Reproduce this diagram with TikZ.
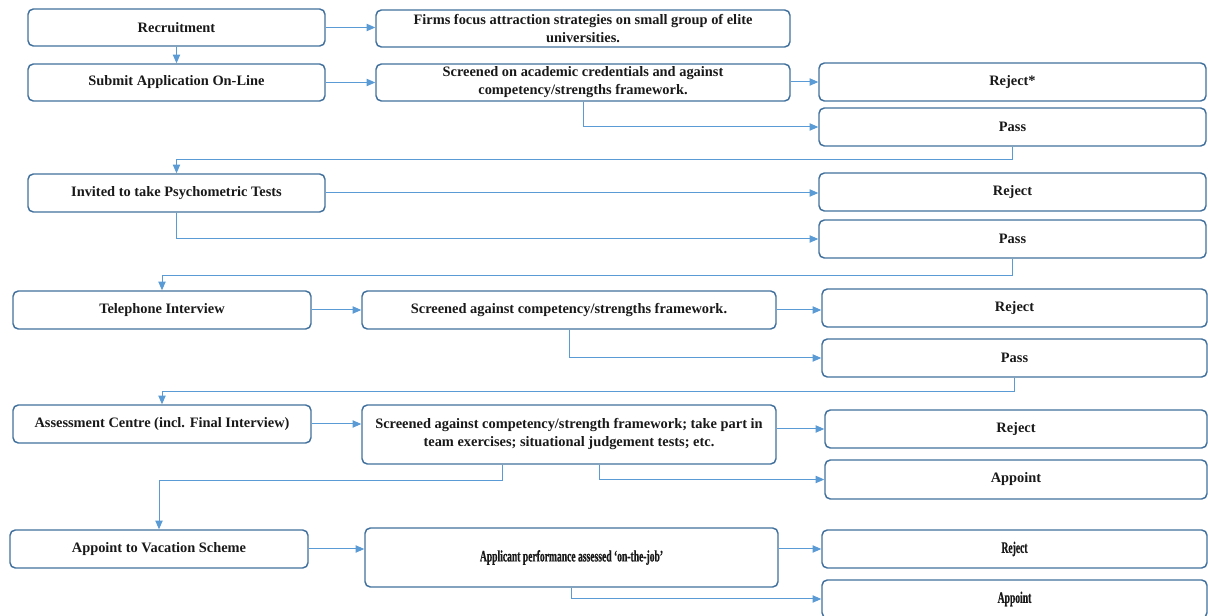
\documentclass[tikz,border=0pt]{standalone}
\usepackage{fontspec}
\setmainfont{Liberation Serif}
\newfontfamily\narrowserif{Liberation Serif Bold}[FakeStretch=0.6, FakeBold=0.6]
\usetikzlibrary{arrows.meta,calc}
\definecolor{boxline}{HTML}{41719C}
\definecolor{flowline}{HTML}{5B9BD5}
\tikzset{
  box/.style={draw=boxline, line width=1.1pt, rounded corners=4pt, fill=white,
    inner sep=0pt, align=center, text=black!90,
    font=\fontsize{10.8}{13.5}\selectfont\bfseries},
  narrowbox/.style={box, font=\fontsize{12}{14}\narrowserif},
  wh/.style 2 args={minimum width=#1*0.75pt, minimum height=#2*0.75pt},
  flow/.style={draw=flowline, line width=0.75pt, -{Triangle[length=6.5pt,width=5.5pt]}}
}
\begin{document}
\begin{tikzpicture}[x=0.75pt, y=-0.75pt]
\useasboundingbox (0,0) rectangle (1208,616);
\node[box, wh={297}{37}] (rec) at (176.5,27.5) {Recruitment};
\node[box, wh={414}{37}] (firms) at (583,28.5) {Firms focus attraction strategies on small group of elite\\universities.};
\node[box, wh={297}{37}] (submit) at (176.5,82.5) {Submit Application On-Line};
\node[box, wh={414}{37}] (scr1) at (583,82.5) {Screened on academic credentials and against\\competency/strengths framework.};
\node[box, wh={387}{38}] (rej1) at (1012.5,82) {Reject*};
\node[box, wh={387}{38}] (pass1) at (1012.5,127) {Pass};
\node[box, wh={297}{38}] (psy) at (176.5,193) {Invited to take Psychometric Tests};
\node[box, wh={387}{38}] (rej2) at (1012.5,192) {Reject};
\node[box, wh={387}{38}] (pass2) at (1012.5,239) {Pass};
\node[box, wh={298}{38}] (tel) at (162,310) {Telephone Interview};
\node[box, wh={414}{38}] (scr2) at (569,310) {Screened against competency/strengths framework.};
\node[box, wh={385}{38}] (rej3) at (1014.5,308) {Reject};
\node[box, wh={385}{38}] (pass3) at (1014.5,358) {Pass};
\node[box, wh={298}{38}] (ac) at (162,424) {Assessment Centre (incl. Final Interview)};
\node[box, wh={414}{59}] (scr3) at (569,434.5) {Screened against competency/strength framework; take part in\\team exercises; situational judgement tests; etc.};
\node[box, wh={382}{38}] (rej4) at (1016,429) {Reject};
\node[box, wh={382}{39}] (app1) at (1016,479.5) {Appoint};
\node[box, wh={298}{38}] (vac) at (159,549) {Appoint to Vacation Scheme};
\node[narrowbox, wh={413}{59}] (perf) at (571.5,557.5) {Applicant performance assessed ‘on-the-job’};
\node[narrowbox, wh={385}{38}] (rej5) at (1014.5,549) {Reject};
\node[narrowbox, wh={385}{38}] (app2) at (1014.5,599) {Appoint};

\draw[flow] (rec.east) -- (rec.east -| firms.west);
\draw[flow] (rec.south) -- (submit.north);
\draw[flow] (submit.east) -- (submit.east -| scr1.west);
\draw[flow] (scr1.east |- rej1.west) -- (rej1.west);
\draw[flow] (scr1.south) |- (pass1.west);
\draw[flow] (pass1.south) -- ++(0,13) -| (psy.north);
\draw[flow] (psy.east) -- (psy.east -| rej2.west);
\draw[flow] (psy.south) |- (pass2.west);
\draw[flow] (pass2.south) -- ++(0,17) -| (tel.north);
\draw[flow] (tel.east) -- (tel.east -| scr2.west);
\draw[flow] (scr2.east) -- (scr2.east -| rej3.west);
\draw[flow] (scr2.south) |- (pass3.west);
\draw[flow] (pass3.south) -- ++(0,14) -| (ac.north);
\draw[flow] (ac.east) -- (ac.east -| scr3.west);
\draw[flow] (scr3.east |- rej4.west) -- (rej4.west);
\draw[flow] ($(scr3.south)+(30,0)$) |- (app1.west);
\draw[flow] ($(scr3.south)+(-67,0)$) -- ++(0,16) -| (vac.north);
\draw[flow] (vac.east) -- (vac.east -| perf.west);
\draw[flow] (perf.east |- rej5.west) -- (rej5.west);
\draw[flow] (perf.south) |- (app2.west);
\end{tikzpicture}
\end{document}
